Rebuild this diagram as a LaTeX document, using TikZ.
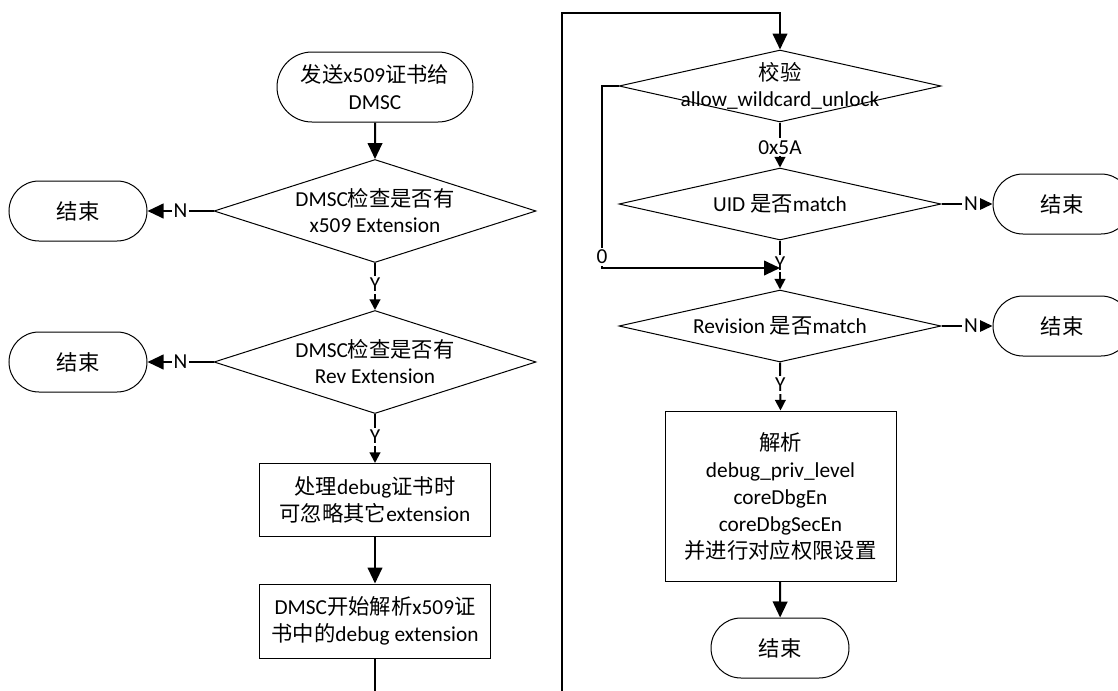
\documentclass[tikz,border=0pt]{standalone}
\usepackage{fontspec}
\setmainfont{Carlito}
\newfontfamily\cjkfont{Noto Sans CJK SC}
\newcommand{\zh}[1]{{\cjkfont #1}}
\usetikzlibrary{shapes.geometric,shapes.misc,arrows.meta}
\tikzset{
  base/.style={draw, line width=0.75pt, align=center, inner sep=0pt,
    font=\fontsize{16}{20.25}\selectfont},
  term/.style={base, rounded rectangle, minimum width=103.5pt, minimum height=45pt},
  proc/.style={base, rectangle, minimum width=173.25pt},
  dia/.style={base, diamond, minimum width=241.5pt},
  dtext/.style={font=\fontsize{16}{19.5}\selectfont, align=center, inner sep=0pt},
  conn/.style={line width=1.5pt, -{Triangle[length=12pt,width=11pt]}},
  sconn/.style={line width=1.5pt, -{Triangle[length=8pt,width=8pt]}},
  lab/.style={fill=white, inner sep=1.5pt, font=\fontsize{16}{19}\selectfont}
}
\begin{document}
\begin{tikzpicture}[x=0.75pt,y=-0.75pt]
\clip (0,0) rectangle (1118,690);
\fill[white] (0,0) rectangle (1118,690);
% left column
\node[term, minimum width=147pt, minimum height=52.5pt] (start) at (375,87) {\zh{发送}x509\zh{证书给}\\DMSC};
\node[dia, minimum height=77.25pt, label={[dtext]center:DMSC\zh{检查是否有}\\x509 Extension}] (d1) at (375,211) {};
\node[dia, minimum height=77.25pt, label={[dtext]center:DMSC\zh{检查是否有}\\Rev Extension}] (d2) at (375,362) {};
\node[term] (e1) at (78,211) {\zh{结束}};
\node[term] (e2) at (78,362) {\zh{结束}};
\node[proc, minimum height=54.75pt] (b1) at (375,500) {\zh{处理}debug\zh{证书时}\\\zh{可忽略其它}extension};
\node[proc, minimum height=55.5pt] (b2) at (375,621) {DMSC\zh{开始解析}x509\zh{证}\\\zh{书中的}debug extension};
% right column
\node[dia, minimum height=54pt, label={[dtext]center:\zh{校验}\\allow\_wildcard\_unlock}] (d3) at (780,86) {};
\node[dia, minimum height=54pt, label={[dtext]center:UID \zh{是否}match}] (d4) at (780,204) {};
\node[dia, minimum height=54pt, label={[dtext]center:Revision \zh{是否}match}] (d5) at (780,326) {};
\node[term] (e3) at (1062,204) {\zh{结束}};
\node[term] (e4) at (1062,326) {\zh{结束}};
\node[proc, minimum height=127.5pt] (b3) at (780.5,496) {\zh{解析}\\debug\_priv\_level\\coreDbgEn\\coreDbgSecEn\\\zh{并进行对应权限设置}};
\node[term] (e5) at (780,648) {\zh{结束}};
% coordinates
\coordinate (loopbot) at (375,710);
\coordinate (looptop) at (562,13);
\coordinate (yj) at (780,268);
\coordinate (zc) at (602,268);
% connectors left
\draw[conn] (start) -- (d1);
\draw[conn] (d1.west) -- node[lab, pos=0.5]{N} (e1.east);
\draw[conn] (d2.west) -- node[lab, pos=0.5]{N} (e2.east);
\draw[sconn] (d1.south) -- node[lab, pos=0.47]{Y} (d2.north);
\draw[sconn] (d2.south) -- node[lab, pos=0.47]{Y} (b1.north);
\draw[conn] (b1) -- (b2);
\draw[conn] (b2.south) -- (loopbot) -| (looptop) -| (d3.north);
% connectors right
\draw[sconn] (d3.south) -- node[lab, pos=0.55]{0x5A} (d4.north);
\draw[conn] (d4.east) -- node[lab, pos=0.58]{N} (e3.west);
\draw[sconn] (d4.south) -- node[lab, pos=0.47]{Y} (d5.north);
\draw[conn] (d3.west) -| (zc) node[lab, yshift=8.25pt]{0} -- (yj);
\draw[conn] (d5.east) -- node[lab, pos=0.58]{N} (e4.west);
\draw[sconn] (d5.south) -- node[lab, pos=0.47]{Y} (b3.north);
\draw[conn] (b3) -- (e5);
\end{tikzpicture}
\end{document}
